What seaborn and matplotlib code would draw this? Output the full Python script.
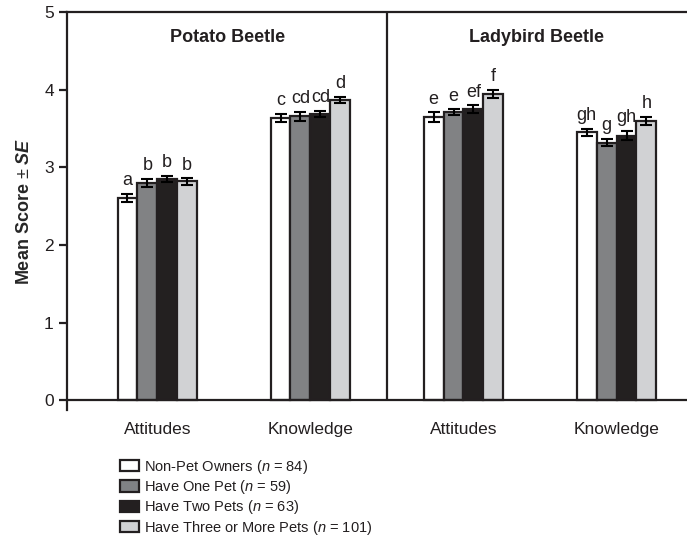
import pandas as pd
import seaborn as sns
import matplotlib.pyplot as plt
from matplotlib.patches import Patch

# groups along the x axis (beetle, measure)
groups = ["Potato Attitudes", "Potato Knowledge", "Ladybird Attitudes", "Ladybird Knowledge"]
group_labels = ["Attitudes", "Knowledge", "Attitudes", "Knowledge"]
series = ["Non-Pet Owners", "Have One Pet", "Have Two Pets", "Have Three or More Pets"]
series_n = [84, 59, 63, 101]

# mean scores, one list per series (in group order)
non_pet = [2.61, 3.64, 3.65, 3.45]
one_pet = [2.80, 3.66, 3.71, 3.32]
two_pets = [2.85, 3.69, 3.75, 3.41]
three_plus = [2.82, 3.87, 3.95, 3.60]

# standard errors
se_non_pet = [0.05, 0.05, 0.06, 0.05]
se_one_pet = [0.05, 0.06, 0.04, 0.05]
se_two_pets = [0.04, 0.04, 0.05, 0.06]
se_three_plus = [0.04, 0.04, 0.05, 0.05]

# significance letters
letters_non_pet = ["a", "c", "e", "gh"]
letters_one_pet = ["b", "cd", "e", "g"]
letters_two_pets = ["b", "cd", "ef", "gh"]
letters_three_plus = ["b", "d", "f", "h"]

colors = ["#ffffff", "#808285", "#231f20", "#d1d2d4"]
EDGE = "#231f20"
FONT = "Liberation Sans"


def pet_chart():
    means = [non_pet, one_pet, two_pets, three_plus]
    ses = [se_non_pet, se_one_pet, se_two_pets, se_three_plus]
    letters = [letters_non_pet, letters_one_pet, letters_two_pets, letters_three_plus]

    rows = []
    for s, name in enumerate(series):
        for g, grp in enumerate(groups):
            rows.append((grp, name, means[s][g], ses[s][g], letters[s][g]))
    df = pd.DataFrame(rows, columns=["group", "series", "mean", "se", "letter"])

    sns.set_style("ticks")
    plt.rcParams["font.family"] = [FONT, "DejaVu Sans"]
    plt.rcParams["text.color"] = EDGE
    plt.rcParams["mathtext.fontset"] = "custom"
    plt.rcParams["mathtext.rm"] = FONT
    plt.rcParams["mathtext.it"] = FONT + ":italic"
    plt.rcParams["mathtext.bf"] = FONT + ":bold"
    plt.rcParams["mathtext.bfit"] = FONT + ":bold:italic"

    fig = plt.figure(figsize=(6.87, 5.5), dpi=100)
    ax = fig.add_axes([0.0975, 0.255, 0.9025, 0.723])

    sns.barplot(data=df, x="group", y="mean", hue="series", order=groups,
                hue_order=series, palette=colors, width=0.52, gap=0,
                edgecolor=EDGE, linewidth=1.6, errorbar=None, legend=False,
                ax=ax, zorder=2)

    # error bars and letters, patches come series by series
    for s in range(len(series)):
        for g in range(len(groups)):
            p = ax.patches[s * len(groups) + g]
            xc = p.get_x() + p.get_width() / 2
            m, e = means[s][g], ses[s][g]
            ax.errorbar(xc, m, yerr=e, color="black", capsize=4.5,
                        elinewidth=1.5, capthick=1.5, zorder=3)
            ax.text(xc, m + e + 0.06, letters[s][g], ha="center", va="bottom",
                    fontsize=13)

    ax.set_xlim(-0.59, 3.46)
    ax.set_ylim(-0.12, 5)
    ax.set_yticks(range(6))
    ax.axhline(0, color=EDGE, lw=1.6, zorder=4)
    ax.vlines(1.5, 0, 5, color=EDGE, lw=1.6)
    ax.set_xticks(range(4))
    ax.set_xticklabels(group_labels, fontsize=12.5)
    ax.tick_params(axis="x", length=0, pad=9, labelcolor=EDGE)
    ax.tick_params(axis="y", labelsize=12.5, length=6, width=1.6, color=EDGE,
                   labelcolor=EDGE)

    for side in ["bottom", "right"]:
        ax.spines[side].set_visible(False)
    for side in ["left", "top"]:
        ax.spines[side].set_linewidth(1.6)
        ax.spines[side].set_color(EDGE)

    ax.set_xlabel("")
    ax.set_ylabel(r"Mean Score $\pm$ $\mathbfit{SE}$", fontsize=13,
                  fontweight="bold", labelpad=8)

    ax.text(0.46, 4.67, "Potato Beetle", ha="center", va="center",
            fontsize=13, fontweight="bold")
    ax.text(2.48, 4.67, "Ladybird Beetle", ha="center", va="center",
            fontsize=13, fontweight="bold")

    handles = [Patch(facecolor=c, edgecolor=EDGE, linewidth=1.6) for c in colors]
    labels = [f"{name} ($n$ = {n})" for name, n in zip(series, series_n)]
    fig.legend(handles, labels, loc="upper left", bbox_to_anchor=(0.1645, 0.181),
               frameon=False, fontsize=10.5, handlelength=1.25, handleheight=0.8,
               handletextpad=0.4, labelspacing=0.16, borderpad=0)

    fig.savefig("out.png", dpi=100)


if __name__ == "__main__":
    pet_chart()
